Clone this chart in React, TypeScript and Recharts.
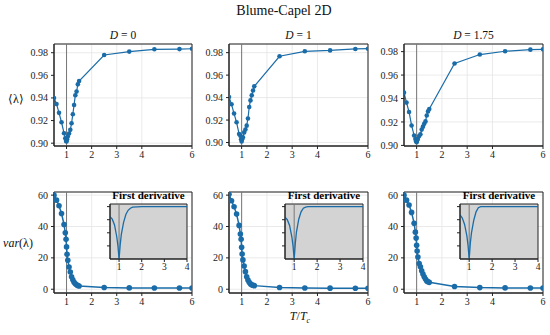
import {
    LineChart,
    Line,
    XAxis,
    YAxis,
    CartesianGrid,
    ReferenceLine,
    ReferenceArea,
} from "recharts";

// T / Tc values shared by every panel
const T = [0.5, 0.6, 0.7, 0.8, 0.9, 0.95, 0.98, 1.0, 1.02, 1.05, 1.1, 1.15, 1.2, 1.25, 1.3, 1.35, 1.4, 1.45, 1.5, 2.5, 3.5, 4.5, 5.5, 6.0];

const lambdaD0 = [0.940, 0.9347, 0.9268, 0.9185, 0.9088, 0.9044, 0.902, 0.9015, 0.9035, 0.906, 0.9085, 0.9118, 0.9176, 0.9256, 0.9338, 0.9424, 0.9456, 0.952, 0.955, 0.978, 0.981, 0.983, 0.9832, 0.9835];
const lambdaD1 = [0.9405, 0.934, 0.9258, 0.918, 0.9075, 0.906, 0.903, 0.901, 0.903, 0.9047, 0.909, 0.9115, 0.915, 0.9214, 0.9316, 0.9375, 0.942, 0.9463, 0.95, 0.9768, 0.9812, 0.982, 0.9833, 0.9835];
const lambdaD175 = [0.945, 0.9365, 0.9285, 0.917, 0.9085, 0.9055, 0.9035, 0.9028, 0.9045, 0.9057, 0.908, 0.9095, 0.9135, 0.916, 0.9184, 0.9205, 0.9255, 0.929, 0.931, 0.9699, 0.9775, 0.9803, 0.9817, 0.982];

const varD0 = [60, 56.8, 53.2, 48.3, 41.3, 36, 31.8, 27, 22.3, 18.5, 14.2, 11, 8, 6, 4.5, 3.5, 2.8, 2.4, 2.1, 1.1, 0.85, 0.8, 0.75, 0.75];
const varD1 = [60.5, 56.4, 52.6, 47.9, 40.7, 35.2, 31.8, 26.7, 22.5, 18.7, 14.8, 11.2, 8, 5.9, 4.5, 3.4, 2.8, 2.5, 2.3, 1.1, 0.8, 0.7, 0.6, 0.6];
const varD175 = [60, 56.8, 53.7, 49, 42.1, 36.4, 32.6, 28, 24.4, 20.6, 16.4, 14.3, 11.8, 9.7, 8, 6.5, 5.3, 4.8, 4.4, 1.7, 1.05, 0.85, 0.8, 0.8];

// inset: first derivative (normalised)
const Tinset = [0.6, 0.7, 0.8, 0.9, 0.95, 1.0, 1.05, 1.1, 1.2, 1.3, 1.4, 1.5, 1.6, 2.0, 3.0, 4.0];
const derivD0 = [0.81, 0.76, 0.65, 0.42, 0.25, 0.0, 0.27, 0.47, 0.7, 0.85, 0.93, 0.97, 0.99, 1.0, 1.0, 1.0];
const derivD1 = [0.8, 0.75, 0.64, 0.42, 0.25, 0.0, 0.3, 0.52, 0.76, 0.9, 0.97, 0.99, 1.0, 1.0, 1.0, 1.0];
const derivD175 = [0.84, 0.78, 0.66, 0.44, 0.26, 0.0, 0.3, 0.5, 0.74, 0.9, 0.98, 1.0, 1.0, 1.0, 1.0, 1.0];

const titles = ["0", "1", "1.75"];
const xTicks = [1, 2, 3, 4, 6];
const lambdaTicks = [0.9, 0.92, 0.94, 0.96, 0.98];
const varTicks = [0, 10, 20, 30, 40, 50, 60];
const insetXTicks = [1, 2, 3, 4];
const insetYTicks = [0.25, 0.5, 0.75, 1.0];

const BLUE = "#1a6ca8";
const FONT = "Liberation Serif";
const M = { top: 6, right: 12, bottom: 0, left: 0 };
const YW = 36;
const XH = 18;

const cols = [
    { pl: 54, pw: 138 },
    { pl: 229, pw: 139 },
    { pl: 404, pw: 139 },
];
const topRow = { pt: 44, ph: 102 };
const botRow = { pt: 192, ph: 101 };
const lambdaDomains = [[0.8975, 0.9877], [0.8969, 0.9877], [0.8995, 0.9865]];
const varDomain = [-2.4, 62];

const tickStyle = { fontSize: 10, fill: "#222", fontFamily: FONT };

function Panel({ values, pl, pw, pt, ph, domain, yTicks, fmt, r, sw }: any) {
    const data = T.map((t, i) => ({ T: t, v: values[i] }));
    return (
        <div style={{ position: "absolute", left: pl - YW, top: pt - M.top }}>
            <LineChart width={pw + YW + M.right} height={ph + M.top + XH} data={data} margin={M}>
                <CartesianGrid stroke="#e4e4e4" strokeWidth={0.8} />
                <ReferenceLine x={1} stroke="#777" strokeWidth={1} />
                <XAxis
                    dataKey="T"
                    type="number"
                    domain={[0.5, 6]}
                    ticks={xTicks}
                    allowDataOverflow
                    height={XH}
                    tickSize={3}
                    tickMargin={2}
                    tick={tickStyle}
                    stroke="#222"
                />
                <YAxis
                    type="number"
                    domain={domain}
                    ticks={yTicks}
                    allowDataOverflow
                    width={YW}
                    tickSize={3}
                    tickMargin={3}
                    tick={tickStyle}
                    tickFormatter={fmt}
                    stroke="#222"
                />
                <ReferenceArea x1={0.5} x2={6} y1={domain[0]} y2={domain[1]} fill="none" stroke="#222" strokeWidth={1} ifOverflow="visible" />
                <Line
                    dataKey="v"
                    type="linear"
                    stroke={BLUE}
                    strokeWidth={sw}
                    dot={{ r, fill: BLUE, stroke: BLUE, strokeWidth: 0 }}
                    isAnimationActive={false}
                />
            </LineChart>
        </div>
    );
}

function Inset({ values, left, top, w, h }: any) {
    const data = Tinset.map((t, i) => ({ T: t, v: values[i] }));
    const iy = 8;
    const m = { top: 2, right: 6, bottom: 0, left: 0 };
    return (
        <div style={{ position: "absolute", left: left - iy, top: top - m.top }}>
            <LineChart width={w + iy + m.right} height={h + m.top + 16} data={data} margin={m}>
                <ReferenceArea x1={0.6} x2={4} y1={0} y2={1.05} fill="#d3d3d3" fillOpacity={1} stroke="#222" strokeWidth={1} ifOverflow="visible" />
                <ReferenceLine x={1} stroke="#777" strokeWidth={1} />
                <XAxis
                    dataKey="T"
                    type="number"
                    domain={[0.6, 4]}
                    ticks={insetXTicks}
                    allowDataOverflow
                    height={16}
                    tickSize={3}
                    tickMargin={1}
                    tick={{ ...tickStyle, fontSize: 9.5 }}
                    stroke="#222"
                />
                <YAxis
                    type="number"
                    domain={[0, 1.05]}
                    ticks={insetYTicks}
                    allowDataOverflow
                    width={iy}
                    tickSize={3}
                    tickFormatter={() => ""}
                    stroke="#222"
                />
                <Line dataKey="v" type="linear" stroke={BLUE} strokeWidth={1.3} dot={false} isAnimationActive={false} />
            </LineChart>
            <div
                style={{
                    position: "absolute",
                    left: iy - 10,
                    width: w + 20,
                    top: -13,
                    textAlign: "center",
                    fontFamily: FONT,
                    fontWeight: "bold",
                    fontSize: 11,
                    whiteSpace: "nowrap",
                    lineHeight: "12px",
                }}
            >
                First derivative
            </div>
        </div>
    );
}

const label = (x: number, y: number, content: any, size = 11.5) => (
    <div
        style={{
            position: "absolute",
            left: x - 60,
            top: y - 8,
            width: 120,
            textAlign: "center",
            fontFamily: FONT,
            fontSize: size,
            lineHeight: "16px",
            color: "#111",
            whiteSpace: "nowrap",
        }}
    >
        {content}
    </div>
);

export default function App() {
    const lambdas = [lambdaD0, lambdaD1, lambdaD175];
    const vars = [varD0, varD1, varD175];
    const derivs = [derivD0, derivD1, derivD175];
    return (
        <div style={{ position: "absolute", left: 0, top: 0, width: 550, height: 335, background: "#fff", fontFamily: FONT }}>
            <style>{`.recharts-text, .recharts-cartesian-axis-tick-value { font-family: "Liberation Serif", serif !important; }`}</style>
            {label(284, 11, "Blume-Capel 2D", 14)}
            {cols.map((c, i) => (
                <div key={"t" + i}>
                    {label(c.pl + c.pw / 2, 35, <span><i>D</i> = {titles[i]}</span>)}
                    <Panel
                        values={lambdas[i]}
                        pl={c.pl}
                        pw={c.pw}
                        pt={topRow.pt}
                        ph={topRow.ph}
                        domain={lambdaDomains[i]}
                        yTicks={lambdaTicks}
                        fmt={(v: number) => v.toFixed(2)}
                        r={2.3}
                        sw={1.2}
                    />
                    <Panel
                        values={vars[i]}
                        pl={c.pl}
                        pw={c.pw}
                        pt={botRow.pt}
                        ph={botRow.ph}
                        domain={varDomain}
                        yTicks={varTicks}
                        fmt={(v: number) => String(v)}
                        r={2.8}
                        sw={1.5}
                    />
                    <Inset values={derivs[i]} left={c.pl + 56} top={204} w={c.pw - 61} h={55} />
                </div>
            ))}
            {label(16, 99, "⟨λ⟩", 12)}
            {label(18, 243, <span><i>var</i>(λ)</span>, 12)}
            {label(300, 316, <span><i>T</i>/<i>T</i><sub style={{ fontSize: 8 }}><i>c</i></sub></span>, 12)}
        </div>
    );
}
